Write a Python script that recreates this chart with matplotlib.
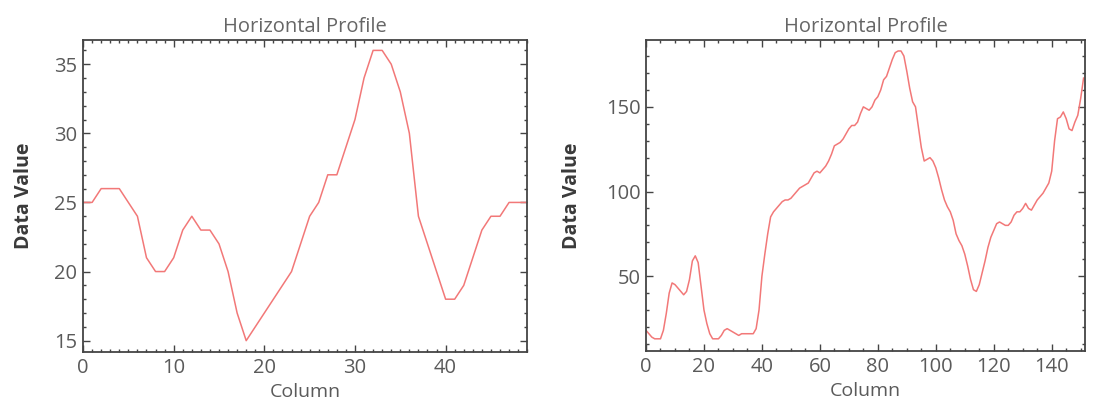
import numpy as np
import matplotlib
matplotlib.use('Agg')
from matplotlib import pyplot as plt
from matplotlib.ticker import MultipleLocator

# left profile: one value per column
left_values = [25, 25, 26, 26, 26, 25, 24, 21, 20, 20,
               21, 23, 24, 23, 23, 22, 20, 17, 15, 16,
               17, 18, 19, 20, 22, 24, 25, 27, 27, 29,
               31, 34, 36, 36, 35, 33, 30, 24, 22, 20,
               18, 18, 19, 21, 23, 24, 24, 25, 25, 25]

# right profile: one value per column
right_values = [18, 16, 14, 13, 13, 13, 18, 28, 40, 46,
                45, 43, 41, 39, 41, 48, 59, 62, 58, 44,
                30, 22, 16, 13, 13, 13, 15, 18, 19, 18,
                17, 16, 15, 16, 16, 16, 16, 16, 19, 30,
                50, 63, 75, 85, 88, 90, 92, 94, 95, 95,
                96, 98, 100, 102, 103, 104, 105, 108, 111, 112,
                111, 113, 115, 118, 122, 127, 128, 129, 131, 134,
                137, 139, 139, 141, 146, 150, 149, 148, 150, 154,
                156, 160, 166, 168, 173, 178, 182, 183, 183, 180,
                171, 161, 153, 150, 138, 126, 118, 119, 120, 118,
                114, 108, 101, 95, 91, 88, 83, 75, 71, 68,
                63, 56, 48, 42, 41, 45, 52, 59, 67, 73,
                77, 81, 82, 81, 80, 80, 82, 86, 88, 88,
                90, 93, 90, 89, 92, 95, 97, 99, 102, 105,
                112, 130, 143, 144, 147, 143, 137, 136, 141, 145,
                155, 167]

left_columns = np.arange(len(left_values))
right_columns = np.arange(len(right_values))

plt.rcParams['font.family'] = ['Open Sans', 'DejaVu Sans']

line_color = '#f27878'
text_gray = '#5a5a5a'
spine_color = '#444444'


def profile_axes(fig, rect, cols, vals, xlim, ylim, xmaj, xmin, ymaj, ymin, ypad):
  ax = fig.add_axes(rect)
  ax.plot(cols, vals, color=line_color, lw=1.1)
  ax.set_xlim(*xlim)
  ax.set_ylim(*ylim)
  ax.xaxis.set_major_locator(MultipleLocator(xmaj))
  ax.xaxis.set_minor_locator(MultipleLocator(xmin))
  ax.yaxis.set_major_locator(MultipleLocator(ymaj))
  ax.yaxis.set_minor_locator(MultipleLocator(ymin))
  ax.tick_params(which='both', direction='in', top=True, right=True,
                 color=spine_color, width=1)
  ax.tick_params(which='major', length=5, labelsize=14.5, labelcolor=text_gray, pad=4)
  ax.tick_params(which='minor', length=2.5)
  for sp in ax.spines.values():
    sp.set_color(spine_color)
    sp.set_linewidth(1.3)
  ax.set_title('Horizontal Profile', fontsize=14.5, color='#666666', pad=6)
  ax.set_ylabel('Data Value', fontsize=14, fontweight='bold', color='#3a3a3a', labelpad=ypad)
  # the original label sits right on the bottom edge; keep it just inside
  ax.set_xlabel('Column', fontsize=14, color=text_gray, labelpad=4)
  return ax


fig = plt.figure(figsize=(10.94, 4.01), dpi=100)
profile_axes(fig, [0.0759, 0.1222, 0.406, 0.778], left_columns, left_values,
             (0, 49), (14.18, 36.75), 10, 1, 5, 1, 15)
profile_axes(fig, [0.5905, 0.1247, 0.4013, 0.7756], right_columns, right_values,
             (0, 151.5), (5.8, 189.5), 20, 5, 50, 10, 17)

plt.savefig('out.png', dpi=100)
